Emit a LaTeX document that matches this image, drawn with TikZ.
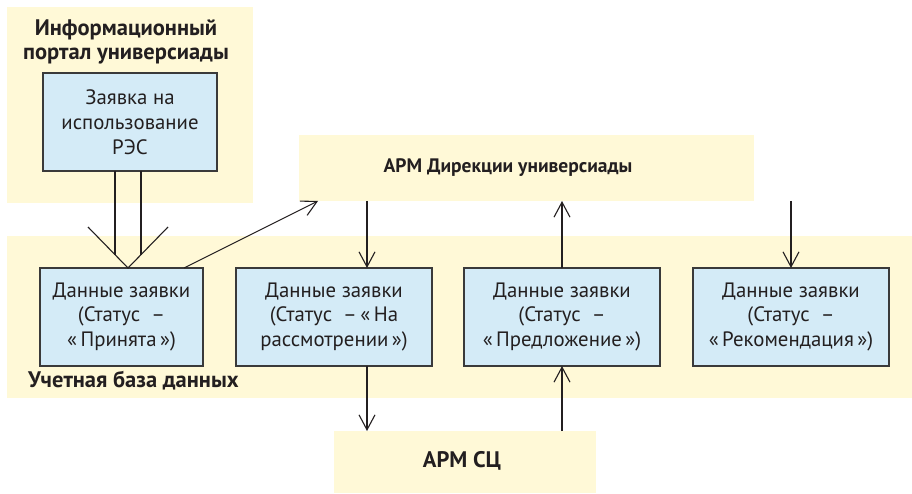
\documentclass[tikz,border=0pt]{standalone}
\usepackage{fontspec}
\setmainfont{PT Sans}
\usetikzlibrary{arrows.meta,calc}
\definecolor{yel}{HTML}{FFF9D7}
\definecolor{blu}{HTML}{D4EBF7}
\definecolor{ink}{HTML}{231F20}
\definecolor{edge}{HTML}{3A3A3A}
\tikzset{
  zone/.style={fill=yel, draw=none, inner sep=0pt, outer sep=0pt},
  card/.style={fill=blu, draw=edge, line width=1.3pt, inner sep=0pt, outer sep=0pt, align=center,
    text=ink, font=\fontsize{20.8}{24.8}\selectfont},
  ttl/.style={text=ink, font=\fontsize{22.5}{24}\selectfont\bfseries, align=center, inner sep=0pt},
  ttlc/.style={ttl, font=\fontsize{19.5}{24}\selectfont\bfseries},
  arr/.style={draw=ink, line width=1.1pt, -{Straight Barb[length=15pt,width=16pt,line width=1.1pt]}},
  ln/.style={draw=ink, line width=1.1pt}
}
\begin{document}
\begin{tikzpicture}[x=1pt,y=-1pt]
\useasboundingbox (0,0) rectangle (912,494);
% zones
\node[zone, minimum width=246pt, minimum height=196pt] (portal) at (130,105) {};
\node[zone, minimum width=905pt, minimum height=162pt] (db) at (459.5,317) {};
\node[zone, minimum width=455pt, minimum height=66pt] (dir) at (526.5,168) {};
\node[zone, minimum width=262pt, minimum height=62pt] (sc) at (465,462) {};
% zone titles
\node[ttl] (portalT) at (126,42) {Информационный\\портал универсиады};
\node[ttlc] (dirT) at (508,168) {АРМ Дирекции универсиады};
\node[ttl] (scT) at (462,461) {АРМ СЦ};
\node[ttl, anchor=west] (dbT) at (28,381) {Учетная база данных};
% cards
\node[card, minimum width=174pt, minimum height=98pt] (req) at (130,122) {Заявка на\\использование\\РЭС};
\node[card, minimum width=163pt, minimum height=98pt] (b1) at (121.5,317) {Данные заявки\\(Статус\ \ –\\«\,Принята\,»)};
\node[card, minimum width=196pt, minimum height=98pt] (b2) at (334,317) {Данные заявки\\(Статус\ \ –\,«\,На\\рассмотрении\,»)};
\node[card, minimum width=196pt, minimum height=98pt] (b3) at (562,317) {Данные заявки\\(Статус\ \ –\\«\,Предложение\,»)};
\node[card, minimum width=196pt, minimum height=98pt] (b4) at (791,317) {Данные заявки\\(Статус\ \ –\\«\,Рекомендация\,»)};
% helper coordinates
\coordinate (xa) at (115,0);
\coordinate (xb) at (141,0);
\coordinate (vt) at (128,268);
\coordinate (vl) at (88,227);
\coordinate (vr) at (168,227);
\coordinate (ea) at (115,254.7);
\coordinate (eb) at (141,254.7);
\coordinate (s1) at (184,0);
\coordinate (t1) at (318,0);
\coordinate (x2) at (367,0);
% connectors
\draw[ln] (req.south -| xa) -- (ea);
\draw[ln] (req.south -| xb) -- (eb);
\draw[ln] (vl) -- (vt) -- (vr);
\draw[arr] (b1.north -| s1) -- (dir.south -| t1);
\draw[arr] (dir.south -| x2) -- (b2.north -| x2);
\draw[arr] (b3.north) -- (dir.south -| b3.north);
\draw[arr] (dir.south -| b4.north) -- (b4.north);
\draw[arr] (b2.south -| x2) -- (sc.north -| x2);
\draw[arr] (sc.north -| b3.south) -- (b3.south);
\end{tikzpicture}
\end{document}
